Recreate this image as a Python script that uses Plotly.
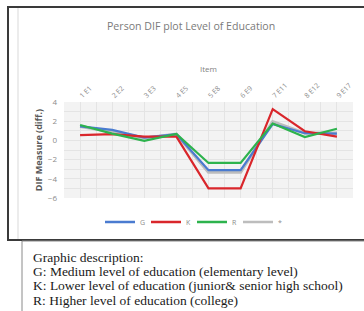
import plotly.graph_objects as go

items = ["1 E1", "2 E2", "3 E3", "4 E5", "5 E8", "6 E9", "7 E11", "8 E12", "9 E17"]
G = [1.47, 1.1, 0.3, 0.65, -3.1, -3.1, 1.7, 0.75, 0.7]
K = [0.55, 0.65, 0.4, 0.4, -5.0, -5.0, 3.25, 0.95, 0.4]
R = [1.6, 0.7, -0.05, 0.68, -2.35, -2.35, 1.75, 0.35, 1.22]
STAR = [1.45, 0.9, 0.25, 0.65, -3.3, -3.3, 1.95, 0.75, 0.75]
y_ticks = [-6, -4, -2, 0, 2, 4]

W, H = 364, 311
L, RGT, T, B = 64, 353, 102, 198
xi = list(range(len(items)))

def px(x):
    return (x - L) / (RGT - L)

def py(y):
    return (B - y) / (B - T)

fig = go.Figure()
series = [("G", G, "#4a7bd0", 2.2), ("K", K, "#d9262b", 2.2), ("R", R, "#2db34d", 2.2), ("*", STAR, "#bdbdbd", 3.2)]
for name, vals, col, w in [series[3], series[0], series[1], series[2]]:
    fig.add_trace(go.Scatter(x=xi, y=vals, mode="lines", name=name,
                             line=dict(color=col, width=w), showlegend=False))
for name, vals, col, w in series:
    fig.add_trace(go.Scatter(x=[None], y=[None], mode="lines", name=name,
                             line=dict(color=col, width=2.5)))

fig.update_layout(
    width=W, height=H,
    margin=dict(l=L, r=W - RGT, t=T, b=H - B, pad=0, autoexpand=False),
    paper_bgcolor="white", plot_bgcolor="#f3f3f3",
    font=dict(family="Open Sans", color="#7f7f7f", size=8),
    showlegend=True,
    legend=dict(orientation="h", x=px(192), xanchor="center", y=py(222), yanchor="middle",
                font=dict(size=7, color="#8c8c8c"), itemwidth=30, entrywidth=1,
                entrywidthmode="pixels", tracegroupgap=0, bgcolor="rgba(0,0,0,0)"),
    xaxis=dict(range=[-0.5, len(items) - 0.5], side="top", tickmode="array", automargin=False,
               tickvals=xi, ticktext=items, tickangle=-45, showline=False,
               zeroline=False, ticks="", showgrid=True, gridcolor="#e4e4e4", gridwidth=1,
               tickfont=dict(size=7, color="#8c8c8c"),
               minor=dict(dtick=0.5, tick0=0, showgrid=True, gridcolor="#e4e4e4", gridwidth=1),
               title=dict(text="Item", font=dict(size=8, color="#7f7f7f"), standoff=7)),
    yaxis=dict(range=[-6, 4], tickmode="array", tickvals=y_ticks, showline=False, automargin=False,
               zeroline=False, ticks="", showgrid=True, gridcolor="#e4e4e4", gridwidth=1,
               minor=dict(dtick=1, tick0=0, showgrid=True, gridcolor="#e4e4e4"),
               tickfont=dict(size=8, color="#8c8c8c"), ticklabelstandoff=6,
               title=dict(text="<b>DIF Measure (diff.)</b>", font=dict(size=9, color="#595959"), standoff=3)),
)

fig.add_annotation(text="Person DIF plot Level of Education", xref="paper", yref="paper",
                   x=px(191), y=py(26), xanchor="center", yanchor="middle", showarrow=False,
                   font=dict(family="Open Sans", size=10.6, color="#7a7a7a"))

fig.add_shape(type="line", xref="paper", yref="paper", x0=px(18), x1=px(18), y0=py(8), y1=py(239),
              line=dict(color="#d9d9d9", width=1))
fig.add_shape(type="rect", xref="paper", yref="paper", x0=px(8), x1=px(370), y0=py(7), y1=py(240),
              line=dict(color="#3a3a3a", width=2))
fig.add_shape(type="rect", xref="paper", yref="paper", x0=px(22), x1=px(370), y0=py(241), y1=py(320),
              line=dict(color="#8a8a8a", width=1))

desc = ["Graphic description:",
        "G: Medium level of education (elementary level)",
        "K: Lower level of education (junior& senior high school)",
        "R: Higher level of education (college)"]
for i, line in enumerate(desc):
    fig.add_annotation(text=line, xref="paper", yref="paper", x=px(31), y=py(257 + i * 14.4),
                       xanchor="left", yanchor="middle", showarrow=False,
                       font=dict(family="Liberation Serif", size=13.5, color="#1a1a1a"))

fig.write_html("out.html", config={"displayModeBar": False},
               post_script="document.body.style.margin='0';")
